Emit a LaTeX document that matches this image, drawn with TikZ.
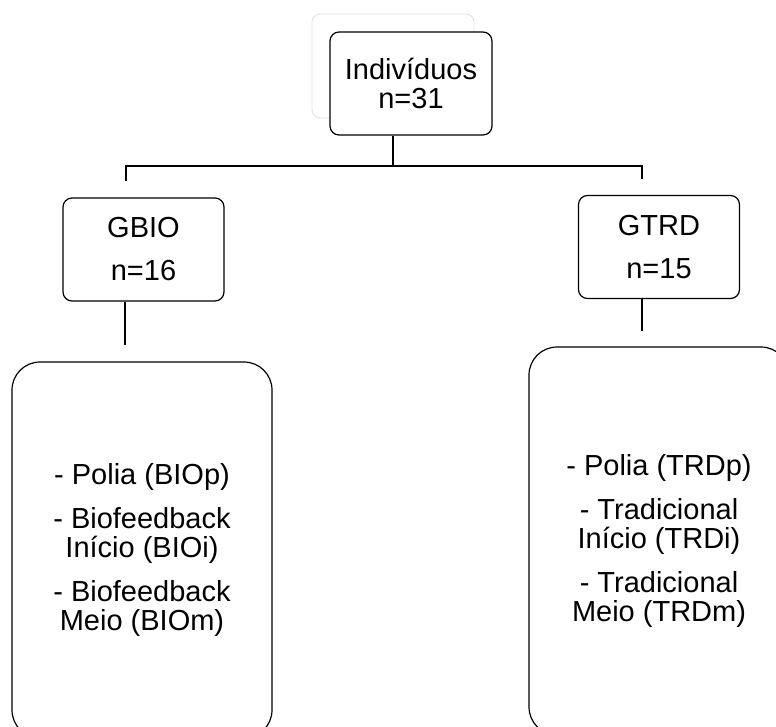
\documentclass[tikz,border=0pt]{standalone}
\usepackage{fontspec}
\setmainfont{Liberation Sans}
\tikzset{every picture/.style={line width=1.2pt}}
\tikzset{
  caixa/.style={draw, fill=white, rounded corners=9pt, align=center,
    inner sep=0pt, font=\fontsize{29}{29}\selectfont},
  grupo/.style={caixa, minimum width=161pt, minimum height=103pt},
  lista/.style={caixa, rounded corners=28pt, minimum width=260pt, minimum height=388pt},
  liga/.style={line width=1.6pt}
}

\begin{document}
\begin{tikzpicture}[x=1pt,y=-1pt]
    \clip (0,0) rectangle (776,726);

    % caixa clara atrás
    \draw[gray!25, line width=0.8pt, rounded corners=8pt] (312,14) rectangle (474,118);

    % caixas
    \node[grupo, minimum width=162pt] (top) at (411,83.5) {Indivíduos\\n=31};
    \node[grupo] (gbio) at (143.5,249.5) {GBIO\\[14pt]n=16};
    \node[grupo] (gtrd) at (659,247) {GTRD\\[14pt]n=15};
    \node[lista, minimum height=376pt] (bio) at (142,550)
        {- Polia (BIOp)\\[15pt]- Biofeedback\\Início (BIOi)\\[15pt]- Biofeedback\\Meio (BIOm)};
    \node[lista] (trd) at (659,541)
        {- Polia (TRDp)\\[15pt]- Tradicional\\Início (TRDi)\\[15pt]- Tradicional\\Meio (TRDm)};

    % ligações
    \coordinate (split) at (393,166);
    \coordinate (lft) at (126,166);
    \coordinate (rgt) at (642,166);
    \coordinate (lftend) at (126,181);
    \coordinate (rgtend) at (642,179);
    \coordinate (bioend) at (125,345);
    \coordinate (trdend) at (642,331);
    \draw[liga] (top.south -| split) -- (split);
    \draw[liga] (lftend) -- (lft) -- (rgt) -- (rgtend);
    \draw[liga] (gbio.south -| bioend) -- (bioend);
    \draw[liga] (gtrd.south -| trdend) -- (trdend);
\end{tikzpicture}
\end{document}
